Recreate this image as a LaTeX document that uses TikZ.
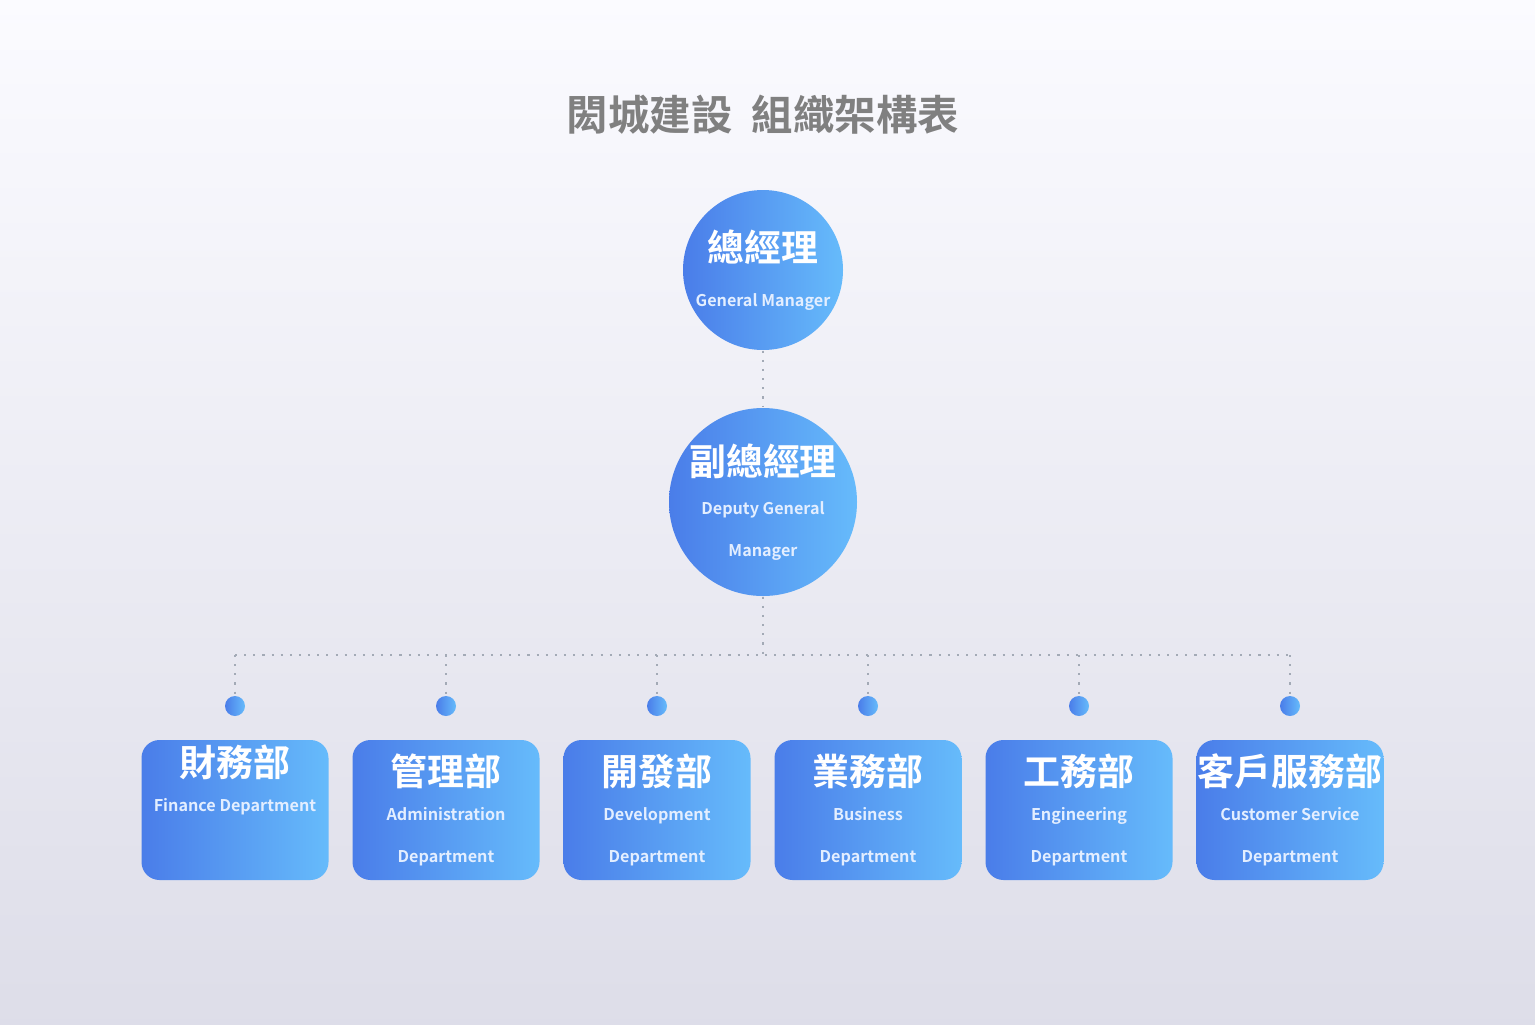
\documentclass[tikz,border=0pt]{standalone}
\usepackage{fontspec}
\setmainfont{Noto Sans CJK TC}[BoldFont={* Bold}]
\usetikzlibrary{positioning}
\definecolor{deepblue}{HTML}{4A7DE9}
\definecolor{lightblue}{HTML}{66BBFB}
\definecolor{dotgray}{HTML}{A3AAB6}
\definecolor{subwhite}{HTML}{E3EEFF}
\tikzset{
  headcircle/.style={circle,minimum size=1.6cm,inner sep=0pt,left color=deepblue,right color=lightblue,text=white,align=center,font=\bfseries},
  deptbox/.style={rectangle,rounded corners=0.18cm,minimum width=1.87cm,minimum height=1.4cm,inner sep=0pt,left color=deepblue,right color=lightblue,text=white,align=center,font=\bfseries},
  jointdot/.style={circle,minimum size=0.2cm,inner sep=0pt,left color=deepblue,right color=lightblue},
  link/.style={draw=dotgray,dotted,line width=0.6pt}
}
\newcommand{\cname}[1]{{\fontsize{10.5pt}{12pt}\selectfont #1}}
\newcommand{\ename}[1]{{\fontsize{4.6pt}{5.6pt}\selectfont\color{subwhite}#1}}
\newcommand{\deptunit}[5]{%
  \coordinate (#1-top) at (#2,-6.55);
  \node[jointdot] (#1-dot) at (#2,-7.06) {};
  \node[deptbox] (#1) at (#2,-8.1) {\cname{#3}\\[-2pt]\ename{#4}\\\ename{#5}};
  \path[link] (#1-top) -- (#1-dot);
}
\begin{document}
\begin{tikzpicture}
\shade[top color=white!60!blue!4,bottom color=blue!20!gray!22] (0,0) rectangle (15.35,-10.24);
\useasboundingbox (0,0) rectangle (15.35,-10.24);
\node[text=gray,font=\bfseries\fontsize{11.8pt}{14pt}\selectfont] (title) at (7.63,-1.15) {閎城建設\ \ 組織架構表};
\node[headcircle] (gm) at (7.63,-2.7) {\cname{總經理}\\[1pt]\ename{General Manager}};
\node[headcircle] (dgm) at (7.63,-5.02) {\cname{副總經理}\\[-1pt]\ename{Deputy General}\\\ename{Manager}};
\coordinate (hub) at (7.63,-6.55);
\path[link] (gm) -- (dgm);
\path[link] (dgm) -- (hub);
% departments
\coordinate (fin-top) at (2.35,-6.55);
\node[jointdot] (fin-dot) at (2.35,-7.06) {};
\node[deptbox] (fin) at (2.35,-8.1) {\cname{財務部}\\[-2pt]\ename{Finance Department}\\[6pt]};
\path[link] (fin-top) -- (fin-dot);
\deptunit{adm}{4.46}{管理部}{Administration}{Department}
\deptunit{dev}{6.57}{開發部}{Development}{Department}
\deptunit{biz}{8.68}{業務部}{Business}{Department}
\deptunit{eng}{10.79}{工務部}{Engineering}{Department}
\deptunit{cs}{12.9}{客戶服務部}{Customer Service}{Department}
\path[link] (fin-top) -- (cs-top);
\end{tikzpicture}
\end{document}
